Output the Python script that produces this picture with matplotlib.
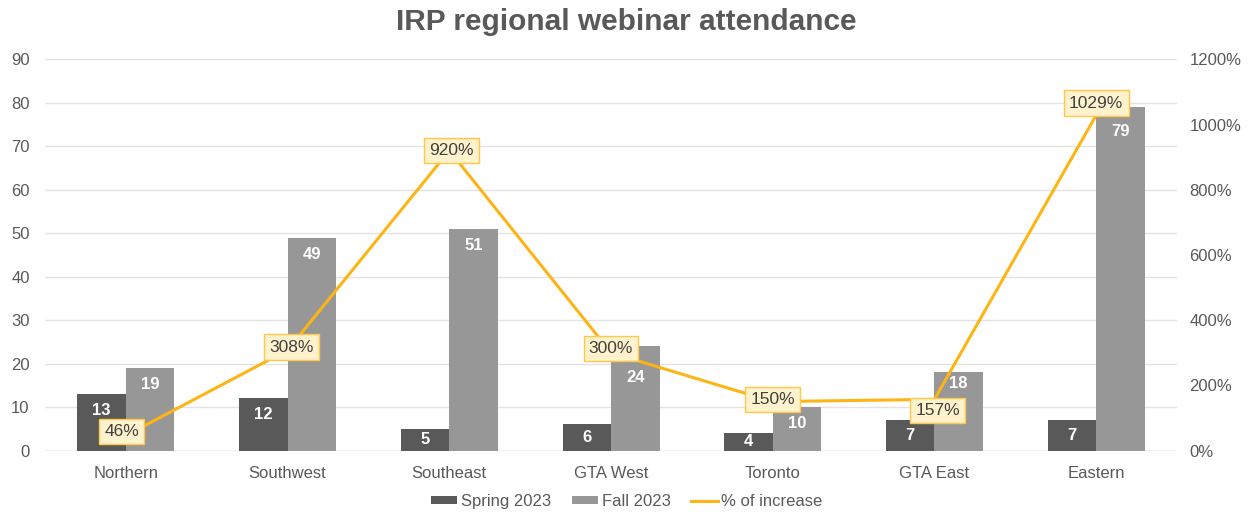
import matplotlib
matplotlib.use("Agg")
import matplotlib.pyplot as plt
import numpy as np
from matplotlib.patches import Patch
from matplotlib.lines import Line2D

regions = ["Northern", "Southwest", "Southeast", "GTA West", "Toronto", "GTA East", "Eastern"]
spring_2023 = [13, 12, 5, 6, 4, 7, 7]
fall_2023 = [19, 49, 51, 24, 10, 18, 79]
pct_increase = [46, 308, 920, 300, 150, 157, 1029]

# label nudges in pixels (dx, dy; positive dy = up) to keep labels from colliding
pct_nudge = [(-4, 4), (4, 3), (2, 0), (0, 4), (0, 2), (3, -11), (0, 12)]
fall_nudge = [0, 0, 0, -15, 0, 5, -8]

plt.rcParams["font.family"] = ["Liberation Sans", "DejaVu Sans"]

C_SPRING = "#595959"
C_FALL = "#979797"
C_LINE = "#FDB515"
C_TEXT = "#595959"
C_GRID = "#E3E3E3"

W, H = 1253, 514
fig = plt.figure(figsize=(W / 100, H / 100), dpi=100)
ax_h = 0.7611
ax = fig.add_axes([0.0359, 0.1235, 0.9035, ax_h])
ax2 = ax.twinx()

x = np.arange(len(regions))
w = 0.3
b1 = ax.bar(x - w / 2, spring_2023, w, color=C_SPRING, zorder=2)
b2 = ax.bar(x + w / 2, fall_2023, w, color=C_FALL, zorder=2)

ax.set_xlim(-0.5, len(regions) - 0.5)
ax.set_ylim(0, 90)
ax.set_yticks(np.arange(0, 91, 10))
ax.grid(axis="y", color=C_GRID, linewidth=1, zorder=0)
ax.set_axisbelow(True)
for s in list(ax.spines.values()) + list(ax2.spines.values()):
    s.set_visible(False)
ax.tick_params(axis="both", length=0, labelsize=12, colors=C_TEXT)
ax.tick_params(axis="y", pad=11)
ax.tick_params(axis="x", pad=11)
ax.set_xticks(x)
ax.set_xticklabels(regions)
ax.axhline(0, color="#D9D9D9", linewidth=1, zorder=1)

# value labels inside the top of each bar (centred in short bars)
upp = 90 / (ax_h * H)          # left-axis data units per pixel
for bars, vals, nudges in ((b1, spring_2023, [0] * len(spring_2023)),
                           (b2, fall_2023, fall_nudge)):
    for rect, v, nd in zip(bars, vals, nudges):
        if v / upp < 33:
            yc = v / 2
        else:
            yc = v - 16.5 * upp
        yc += nd * upp
        ax.text(rect.get_x() + rect.get_width() / 2, yc, f"{v}",
                ha="center", va="center", color="white",
                fontsize=12, fontweight="bold", zorder=3)

ax2.set_ylim(0, 1200)
ax2.set_yticks(np.arange(0, 1201, 200))
ax2.set_yticklabels([f"{t}%" for t in range(0, 1201, 200)])
ax2.tick_params(axis="y", length=0, labelsize=12, colors=C_TEXT, pad=9)
ax2.plot(x, pct_increase, color=C_LINE, linewidth=2.2, zorder=4)
xpp = len(regions) / (0.9035 * W)   # category units per pixel
ypp = 1200 / (ax_h * H)             # right-axis units per pixel
for xi, p, (dx, dy) in zip(x, pct_increase, pct_nudge):
    ax2.text(xi + dx * xpp, p + dy * ypp, f"{p}%", ha="center", va="center",
             fontsize=12.5, color="#404040", zorder=5,
             bbox=dict(boxstyle="square,pad=0.3", facecolor="#FFF2CC",
                       edgecolor="#FFC84A", linewidth=1))

fig.suptitle("IRP regional webinar attendance", y=0.984, fontsize=21.5,
             fontweight="bold", color=C_TEXT)

handles = [Patch(facecolor=C_SPRING, label="Spring 2023"),
           Patch(facecolor=C_FALL, label="Fall 2023"),
           Line2D([0], [0], color=C_LINE, linewidth=2.2, label="% of increase")]
leg = fig.legend(handles=handles, loc="center", bbox_to_anchor=(0.5, 0.024),
                 ncol=3, frameon=False, fontsize=12, handlelength=1.6,
                 handleheight=0.36, handletextpad=0.2, columnspacing=1.25)
for t in leg.get_texts():
    t.set_color(C_TEXT)

fig.savefig("out.png", dpi=100)
